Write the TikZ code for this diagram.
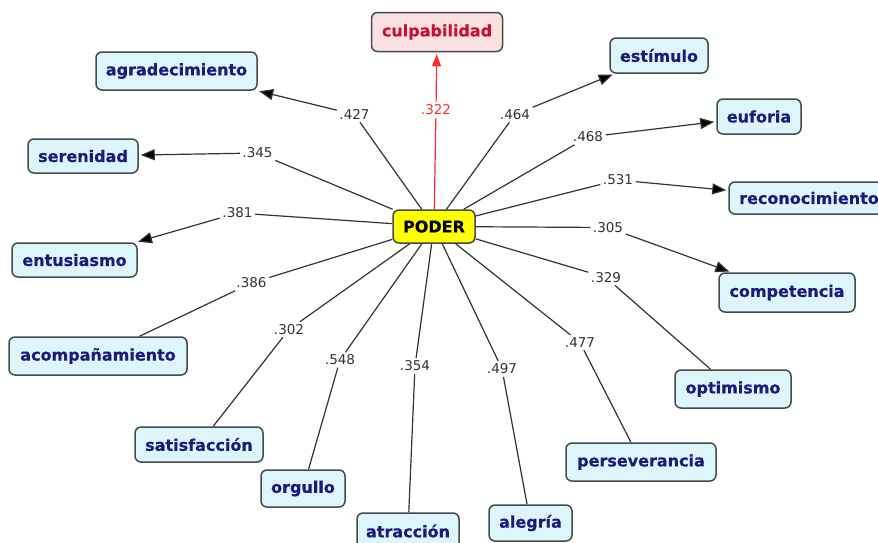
\documentclass[tikz,border=0pt]{standalone}
\usepackage{fontspec}
\setmainfont{DejaVu Sans}
\newfontfamily\conceptfont{DejaVu Sans Bold}[FakeBold=0.5]
\usetikzlibrary{arrows.meta}
\definecolor{nodefill}{HTML}{DDF6FB}
\definecolor{nodeline}{HTML}{434B4B}
\definecolor{navytext}{HTML}{1B1B7A}
\definecolor{pinkfill}{HTML}{FBE1E1}
\definecolor{redtext}{HTML}{C8102E}
\definecolor{redline}{HTML}{FF2A2A}
\definecolor{linkc}{HTML}{333333}
\definecolor{poderfill}{HTML}{FFFF00}
\begin{document}
\begin{tikzpicture}[x=1pt,y=-1pt,
  concept/.style={draw=nodeline, line width=1.5pt, rounded corners=6pt, fill=nodefill,
    text=navytext, font=\conceptfont\fontsize{16}{18}\selectfont, inner sep=0pt},
  lbl/.style={font=\fontsize{13.5}{15}\selectfont, inner sep=2.5pt, text=black!80},
  link/.style={draw=linkc, line width=1.2pt},
  arr/.style={link, -{Triangle[length=14pt,width=11pt,fill=black]}, shorten >=2pt}]
\useasboundingbox (0,0) rectangle (878,542);
\fill[white] (0,0) rectangle (878,542);

% central node
\node[concept, fill=poderfill, text=black, minimum width=82pt, minimum height=33pt] (poder) at (434,226.5) {PODER};

% concept nodes
\node[concept, fill=pinkfill, text=redtext, minimum width=131pt, minimum height=39pt] (culp) at (437,32) {culpabilidad};
\node[concept, minimum width=161pt, minimum height=38pt] (agr) at (176.5,71) {agradecimiento};
\node[concept, minimum width=110pt, minimum height=34pt] (ser) at (83,156) {serenidad};
\node[concept, minimum width=125pt, minimum height=34pt] (ent) at (74.5,260) {entusiasmo};
\node[concept, minimum width=178pt, minimum height=38pt] (aco) at (98,356) {acompañamiento};
\node[concept, minimum width=128pt, minimum height=35pt] (sat) at (199,444.5) {satisfacción};
\node[concept, minimum width=84pt, minimum height=37pt] (org) at (303,488.5) {orgullo};
\node[concept, minimum width=102pt, minimum height=36pt] (atr) at (408,531) {atracción};
\node[concept, minimum width=83pt, minimum height=36pt] (ale) at (530.5,523) {alegría};
\node[concept, minimum width=150pt, minimum height=38pt] (per) at (641,462) {perseverancia};
\node[concept, minimum width=116pt, minimum height=38pt] (opt) at (733,389) {optimismo};
\node[concept, minimum width=136pt, minimum height=39pt] (com) at (787,292.5) {competencia};
\node[concept, minimum width=160pt, minimum height=32pt] (rec) at (809,198) {reconocimiento};
\node[concept, minimum width=84pt, minimum height=35pt] (euf) at (759,116.5) {euforia};
\node[concept, minimum width=98pt, minimum height=35pt] (est) at (659,55.5) {estímulo};

% link labels
\node[lbl, text=redline] (l322) at (436,110) {.322};
\node[lbl] (l427) at (354.5,114.5) {.427};
\node[lbl] (l345) at (257.5,153) {.345};
\node[lbl] (l381) at (237.5,213) {.381};
\node[lbl] (l386) at (251.5,283) {.386};
\node[lbl] (l302) at (289,329.5) {.302};
\node[lbl] (l548) at (340,360) {.548};
\node[lbl] (l354) at (415,366) {.354};
\node[lbl] (l497) at (502,369) {.497};
\node[lbl] (l477) at (580,342.5) {.477};
\node[lbl] (l329) at (606,277.5) {.329};
\node[lbl] (l305) at (608,227.5) {.305};
\node[lbl] (l531) at (618,180) {.531};
\node[lbl] (l468) at (588,137) {.468};
\node[lbl] (l464) at (515,114.5) {.464};

% connectors
\draw[link, draw=redline] (poder) -- (l322);
\draw[link, draw=redline, -{Triangle[length=12pt,width=9pt,fill=redline]}, shorten >=2pt] (l322) -- (culp);

\draw[link] (poder) -- (l427); \draw[arr] (l427) -- (agr);
\draw[link] (poder) -- (l345); \draw[arr] (l345) -- (ser);
\draw[link] (poder) -- (l381); \draw[arr] (l381) -- (ent);
\draw[link] (poder) -- (l386); \draw[link] (l386) -- (aco);
\draw[link] (poder) -- (l302); \draw[link] (l302) -- (sat);
\draw[link] (poder) -- (l548); \draw[link] (l548) -- (org);
\draw[link] (poder) -- (l354); \draw[link] (l354) -- (atr);
\draw[link] (poder) -- (l497); \draw[link] (l497) -- (ale);
\draw[link] (poder) -- (l477); \draw[link] (l477) -- (per);
\draw[link] (poder) -- (l329); \draw[link] (l329) -- (opt);
\draw[link] (poder) -- (l305); \draw[arr] (l305) -- (com);
\draw[link] (poder) -- (l531); \draw[arr] (l531) -- (rec);
\draw[link] (poder) -- (l468); \draw[arr] (l468) -- (euf);
\draw[link] (poder) -- (l464); \draw[arr] (l464) -- (est);
\end{tikzpicture}
\end{document}
